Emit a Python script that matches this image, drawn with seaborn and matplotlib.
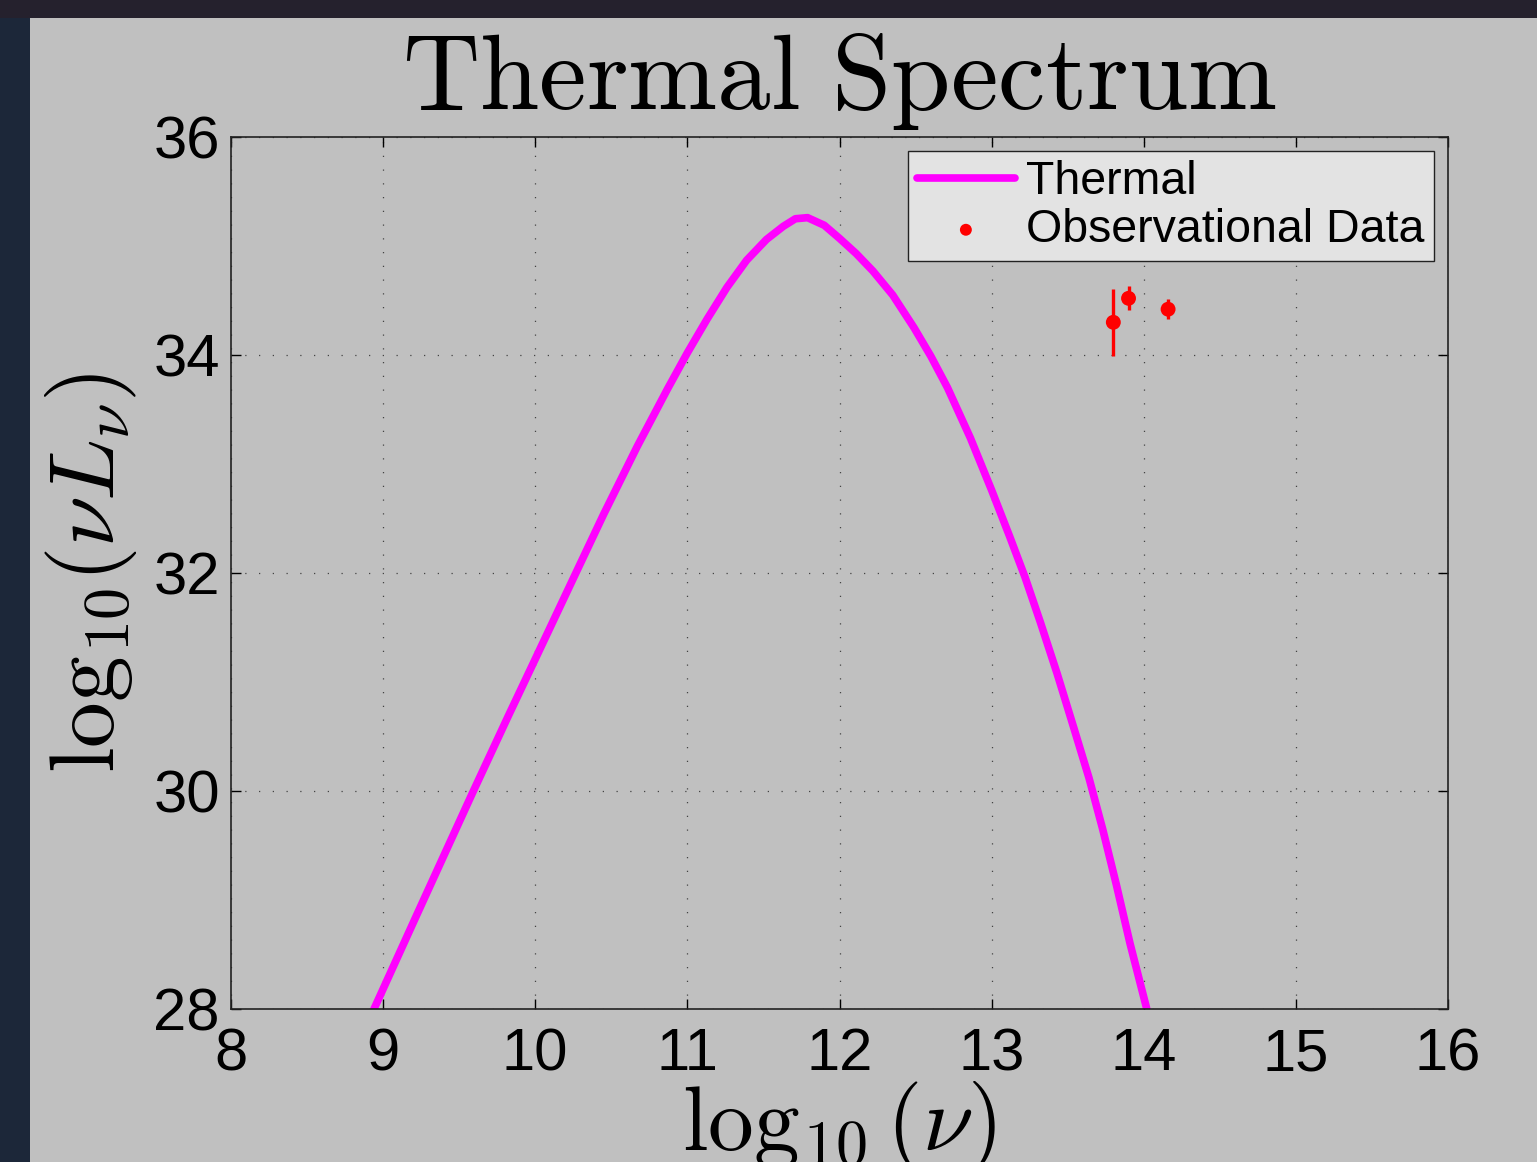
import numpy as np
import pandas as pd
import matplotlib
matplotlib.use("Agg")
import matplotlib.pyplot as plt
from matplotlib.patches import Rectangle
import seaborn as sns

# Thermal curve
log_nu = [8.94, 9.22, 9.40, 9.59, 9.82, 10.01, 10.25, 10.45, 10.67, 10.87,
          11.00, 11.13, 11.26, 11.39, 11.52, 11.63, 11.71, 11.79, 11.90, 12.00,
          12.11, 12.22, 12.35, 12.49, 12.60, 12.71, 12.86, 13.00, 13.12, 13.22,
          13.32, 13.43, 13.54, 13.64, 13.73, 13.82, 13.91, 14.02]
log_nuLnu = [28.00, 28.86, 29.41, 29.99, 30.68, 31.24, 31.95, 32.54, 33.16, 33.69,
             34.02, 34.33, 34.62, 34.87, 35.06, 35.18, 35.25, 35.26, 35.19, 35.07,
             34.93, 34.77, 34.55, 34.25, 33.99, 33.70, 33.24, 32.76, 32.33, 31.96,
             31.55, 31.08, 30.58, 30.12, 29.65, 29.14, 28.60, 28.00]

# observational points
obs_x = [13.80, 13.90, 14.16]
obs_y = [34.30, 34.52, 34.42]
obs_err = [0.31, 0.11, 0.09]

x_ticks = [8, 9, 10, 11, 12, 13, 14, 15, 16]
y_ticks = [28, 30, 32, 34, 36]

sns.set_style("ticks")
plt.rcParams['font.family'] = ['Liberation Sans', 'DejaVu Sans']
plt.rcParams['mathtext.fontset'] = 'cm'
plt.rcParams['text.color'] = 'black'
plt.rcParams['axes.labelcolor'] = 'black'

GRAY = '#c0c0c0'

fig = plt.figure(figsize=(15.37, 11.62), dpi=100)
fig.patch.set_facecolor('#1c2739')
# slide background strips + gray figure area
fig.add_artist(Rectangle((0, 1 - 18 / 1162), 1, 18 / 1162, transform=fig.transFigure,
                         facecolor='#25212d', edgecolor='none', zorder=-2))
fig.add_artist(Rectangle((30 / 1537, 0), 1, 1 - 18 / 1162, transform=fig.transFigure,
                         facecolor=GRAY, edgecolor='none', zorder=-1))

ax = fig.add_axes([231 / 1537, 153 / 1162, 1217 / 1537, 872 / 1162])
ax.set_facecolor(GRAY)

curve = pd.DataFrame({'x': log_nu, 'y': log_nuLnu})
obs = pd.DataFrame({'x': obs_x, 'y': obs_y, 'err': obs_err})

sns.lineplot(data=curve, x='x', y='y', ax=ax, color='#ff00ff', linewidth=5.5,
             sort=False, label='Thermal', solid_joinstyle='round')
ax.errorbar(obs['x'], obs['y'], yerr=obs['err'], fmt='none', ecolor='#ff0000',
            elinewidth=2.4, capsize=0, zorder=3)
sns.scatterplot(data=obs, x='x', y='y', ax=ax, color='#ff0000', s=115,
                edgecolor='none', label='Observational Data', zorder=4)

ax.set_xlim(8, 16)
ax.set_ylim(28, 36)
ax.set_xticks(x_ticks)
ax.set_yticks(y_ticks)

ax.grid(True, color='#444444', linestyle=(0, (1, 10)), linewidth=0.9)
ax.tick_params(direction='in', length=7, width=1, top=True, right=True,
               labelsize=43, colors='black')
ax.tick_params(axis='x', pad=13)
ax.tick_params(axis='y', pad=8)
for sp in ax.spines.values():
    sp.set_color('#222222')
    sp.set_linewidth(1.2)

ax.set_title(r'$\mathrm{Thermal\ Spectrum}$', fontsize=77, pad=20, color='black')
ax.set_xlabel(r'$\mathrm{log}_{10}\,(\nu)$', fontsize=66, labelpad=-2)
ax.set_ylabel(r'$\mathrm{log}_{10}(\nu L_\nu)$', fontsize=66, labelpad=10)

leg = ax.legend(loc='upper right', fontsize=33.5, frameon=True, fancybox=False,
                borderaxespad=0.3, handlelength=2.1, handletextpad=0.25,
                borderpad=0.2, labelspacing=0.08, markerscale=0.8)
leg.get_frame().set_facecolor('#e3e3e3')
leg.get_frame().set_edgecolor('#222222')
leg.get_frame().set_linewidth(1.0)
leg.get_frame().set_alpha(1)

fig.savefig('out.png', dpi=100, facecolor=fig.get_facecolor())
